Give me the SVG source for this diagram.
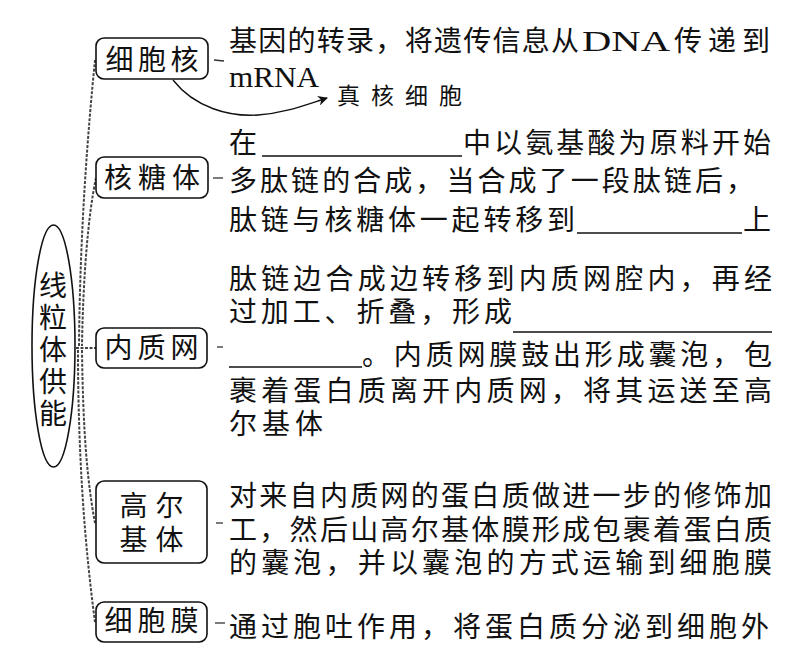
<svg xmlns="http://www.w3.org/2000/svg" width="785" height="658" viewBox="0 0 785 658">
<style>
.t{font-family:"Liberation Sans","Noto Sans CJK SC",sans-serif;font-size:28px;fill:#111}
.l{font-family:"Liberation Serif","Noto Sans CJK SC",serif;font-size:29px;fill:#111}
.h{font-family:"Noto Sans CJK SC",sans-serif;font-size:23px;fill:#111}
.box{fill:#fff;stroke:#111;stroke-width:1.6}
.br{fill:none;stroke:#444;stroke-width:2;stroke-dasharray:3 1.5}
.dash{stroke:#333;stroke-width:1.3}
.ul{stroke:#111;stroke-width:1.4}
</style>
<defs>
<marker id="ah" viewBox="0 0 10 10" refX="9" refY="5" markerWidth="10" markerHeight="10" markerUnits="userSpaceOnUse" orient="auto">
<path d="M0,0 L10,5 L0,10 L3,5 Z" fill="#111"/>
</marker>
</defs>
<rect width="785" height="658" fill="#fff"/>

<g id="connectors">
<path class="br" d="M95,60 C88,130 80,230 79,346"/>
<path class="br" d="M96,178 C88,215 83,280 82,346"/>
<path class="br" d="M82,350 C83,430 87,480 95,523"/>
<path class="br" d="M78,350 C78,450 84,540 95,622"/>
<path class="br" d="M76,348 L96,348"/>
<line class="dash" x1="214" y1="60" x2="224" y2="61"/>
<line class="dash" x1="213" y1="178" x2="223" y2="178"/>
<line class="dash" x1="217" y1="347" x2="223" y2="347"/>
<line class="dash" x1="216" y1="523" x2="223" y2="523"/>
<line class="dash" x1="215" y1="623" x2="225" y2="623"/>
<path d="M173,80 C195,108 230,117 258,115 C285,113 305,105 327,98" fill="none" stroke="#111" stroke-width="1.4" marker-end="url(#ah)"/>
</g>

<g id="root">
<ellipse cx="53.5" cy="346" rx="21.5" ry="121" fill="#fff" stroke="#111" stroke-width="1.6"/>
<text x="53" y="271" writing-mode="vertical-rl" letter-spacing="4" style="font-family:'Noto Sans CJK SC',sans-serif;font-size:28px;fill:#111">线粒体供能</text>
</g>

<g id="nucleus">
<rect class="box" x="96" y="38" width="112" height="41" rx="8"/>
<text class="t" x="152" y="70" text-anchor="middle" textLength="93" lengthAdjust="spacing">细胞核</text>
<text class="t" x="229" y="51" textLength="350" lengthAdjust="spacing">基因的转录，将遗传信息从</text>
<text class="l" x="582" y="51" textLength="88" lengthAdjust="spacingAndGlyphs">DNA</text>
<text class="t" x="674" y="51" textLength="96" lengthAdjust="spacing">传递到</text>
<text class="l" x="229" y="87" textLength="90" lengthAdjust="spacingAndGlyphs">mRNA</text>
<text class="h" x="337" y="104" textLength="125" lengthAdjust="spacing">真核细胞</text>
</g>

<g id="ribosome">
<rect class="box" x="96" y="157" width="112" height="41" rx="8"/>
<text class="t" x="152" y="188" text-anchor="middle" textLength="96" lengthAdjust="spacing">核糖体</text>
<text class="t" x="229" y="153">在</text>
<line class="ul" x1="262" y1="156" x2="462" y2="156"/>
<text class="t" x="463" y="153" textLength="308" lengthAdjust="spacing">中以氨基酸为原料开始</text>
<text class="t" x="229" y="191" textLength="525" lengthAdjust="spacing">多肽链的合成，当合成了一段肽链后，</text>
<text class="t" x="229" y="230" textLength="346" lengthAdjust="spacing">肽链与核糖体一起转移到</text>
<line class="ul" x1="577" y1="233" x2="742" y2="233"/>
<text class="t" x="743" y="230">上</text>
</g>

<g id="er">
<rect class="box" x="96" y="328" width="111" height="40" rx="8"/>
<text class="t" x="151.5" y="358" text-anchor="middle" textLength="94" lengthAdjust="spacing">内质网</text>
<text class="t" x="229" y="289" textLength="543" lengthAdjust="spacing">肽链边合成边转移到内质网腔内，再经</text>
<text class="t" x="229" y="322" textLength="283" lengthAdjust="spacing">过加工、折叠，形成</text>
<line class="ul" x1="513" y1="332" x2="772" y2="332"/>
<line class="ul" x1="229" y1="367" x2="362" y2="367"/>
<text class="t" x="362" y="365" textLength="410" lengthAdjust="spacing">。内质网膜鼓出形成囊泡，包</text>
<text class="t" x="229" y="401" textLength="543" lengthAdjust="spacing">裹着蛋白质离开内质网，将其运送至高</text>
<text class="t" x="229" y="434" textLength="94" lengthAdjust="spacing">尔基体</text>
</g>

<g id="golgi">
<rect class="box" x="96" y="481" width="111" height="82" rx="8"/>
<text class="t" x="151.5" y="516" text-anchor="middle" textLength="64" lengthAdjust="spacing">高尔</text>
<text class="t" x="151.5" y="550" text-anchor="middle" textLength="64" lengthAdjust="spacing">基体</text>
<text class="t" x="229" y="506" textLength="543" lengthAdjust="spacing">对来自内质网的蛋白质做进一步的修饰加</text>
<text class="t" x="229" y="540" textLength="543" lengthAdjust="spacing">工，然后山高尔基体膜形成包裹着蛋白质</text>
<text class="t" x="229" y="573" textLength="543" lengthAdjust="spacing">的囊泡，并以囊泡的方式运输到细胞膜</text>
</g>

<g id="membrane">
<rect class="box" x="96" y="602" width="111" height="40" rx="8"/>
<text class="t" x="151.5" y="631" text-anchor="middle" textLength="94" lengthAdjust="spacing">细胞膜</text>
<text class="t" x="229" y="637" textLength="540" lengthAdjust="spacing">通过胞吐作用，将蛋白质分泌到细胞外</text>
</g>
</svg>
